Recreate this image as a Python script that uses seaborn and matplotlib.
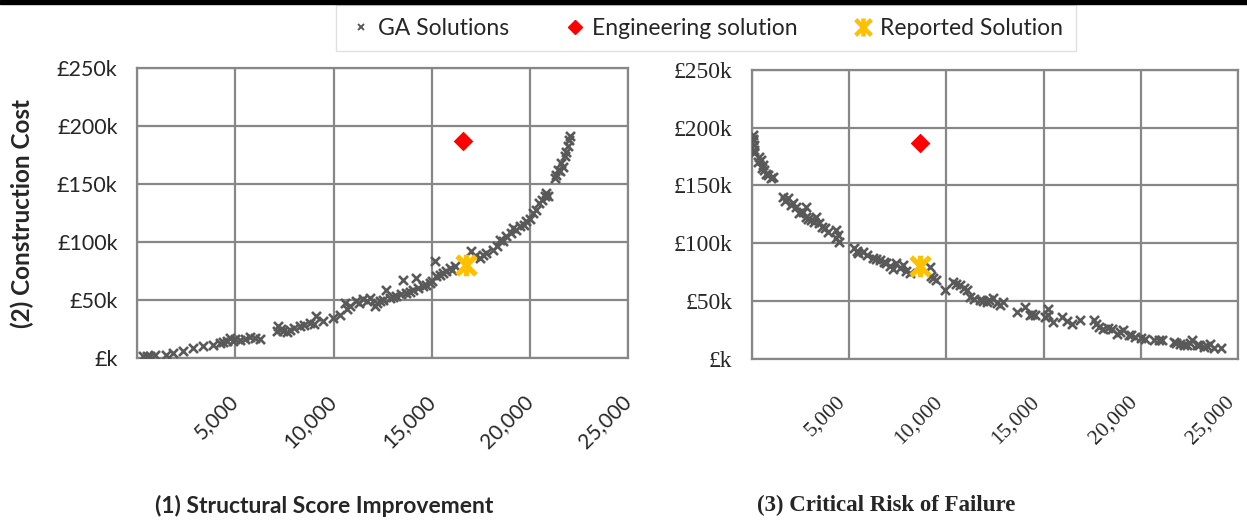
import numpy as np
import pandas as pd
import matplotlib
matplotlib.use("Agg")
import matplotlib.pyplot as plt
import matplotlib.transforms as mtransforms
from matplotlib.lines import Line2D
from matplotlib.patches import Rectangle
from matplotlib.path import Path
import seaborn as sns

# GA solutions, panel (1): structural score improvement vs construction cost
score_x = [305, 644, 1490, 1830, 2340, 2850, 3360, 3860, 4370, 4710, 4880, 5220, 5730, 6240,
           7090, 7170, 7420, 7760, 8270, 8780, 9120, 9460, 9970, 10310, 10560, 10810, 11160,
           11490, 11830, 12090, 12340, 12680, 12850, 13190, 13530, 13700, 14030, 14200, 14540,
           14880, 15130, 15220, 15560, 15900, 16150, 17000, 17430, 17760, 18100, 18440, 18780,
           19120, 19460, 19800, 20140, 20470, 20730, 20810, 21240, 21490, 21580, 21750, 21920, 22000,
           500, 900, 4200, 4550, 5000, 5500, 6000, 7300, 7600, 8000, 8500, 9000, 10700, 11300, 11700,
           12200, 12500, 13000, 13400, 13900, 14300, 14700, 15000, 15400, 15700, 16000, 17200, 17600,
           18300, 18600, 19000, 19300, 19700, 20000, 20300, 20600, 20900, 21300, 21400, 21650, 21800, 21950]
score_cost = [2000, 2000, 2900, 4300, 5700, 8600, 10000, 11500, 13500, 17200, 14400, 15800, 18100, 16400,
              23000, 27300, 23000, 24400, 27300, 30200, 35900, 31600, 34500, 37400, 47400, 44500, 48900,
              50900, 51700, 44500, 48900, 58900, 51700, 53200, 67500, 56000, 58900, 69000, 61800,
              64700, 83300, 70400, 73300, 77600, 79000, 92000, 86200, 90500, 93400, 102000, 104900,
              112100, 113500, 117800, 125000, 133600, 139400, 142300, 155200, 160900, 168100, 173900, 182500, 191100,
              1500, 2500, 13000, 15000, 16000, 16500, 17500, 25000, 22500, 26000, 28500, 29500, 42000, 47000, 49000,
              47000, 50000, 53000, 55000, 57000, 60000, 63000, 66000, 72000, 75000, 76000, 88000, 89000,
              97000, 101000, 108000, 110000, 115000, 120000, 128000, 136000, 140000, 158000, 162000, 165000, 178000, 188000]

# GA solutions, panel (3): critical risk of failure vs construction cost
risk_x = [34, 69, 100, 120, 380, 460, 550, 640, 810, 980, 1065, 1580, 1840, 2100, 2270, 2440, 2780,
          2780, 3040, 3300, 3470, 3730, 4330, 4330, 4500, 5270, 5440, 5700, 6220, 6560, 6910, 7250,
          7420, 7770, 8110, 9130, 9310, 9480, 9910, 10340, 10690, 11030, 11200, 11720, 12060, 12410,
          12750, 12920, 13610, 14040, 14290, 14550, 15070, 15240, 15500, 15930, 16440, 16870, 17560,
          17820, 18070, 18500, 18760, 19100, 19360, 19710, 20220, 20650, 21080, 21680, 22020, 22370,
          22620, 22880, 23230, 23570, 23740, 24090,
          60, 90, 300, 500, 700, 1700, 2000, 2600, 2900, 3200, 3600, 3900, 4400, 5400, 5900, 6400,
          6800, 7100, 7600, 7900, 9200, 10500, 10900, 11400, 11900, 12200, 12600, 14400, 15200, 16200,
          17700, 18300, 18900, 19500, 20000, 20900, 21800, 22200, 22500, 23000, 23400]
risk_cost = [193700, 189400, 185000, 180700, 175000, 172000, 167700, 163400, 159100, 156200, 157600,
             140300, 138900, 134500, 131600, 125900, 131600, 123000, 120100, 123000, 117200, 112900,
             111400, 104200, 101300, 95600, 91200, 92700, 86900, 85500, 82600, 78200, 82600, 81100,
             73900, 79700, 69600, 68100, 59500, 66700, 63800, 59500, 53700, 50800, 49400, 52300, 46500,
             49400, 40700, 45000, 37800, 37800, 36400, 43600, 32000, 36400, 30600, 33500, 33500, 27700,
             26300, 26300, 21900, 24800, 20500, 19100, 17600, 16200, 16200, 14700, 13300, 11800, 16200,
             11800, 10400, 13300, 9800, 9800,
             190000, 178000, 170000, 165000, 160000, 137000, 133000, 127000, 121000, 118000, 114000, 110000,
             107000, 93000, 90000, 86000, 84000, 80000, 79000, 76000, 72000, 65000, 61000, 52000, 50000,
             51000, 48000, 39000, 38000, 33000, 30000, 27000, 23000, 21000, 18000, 16000, 14000, 12000,
             14000, 12000, 11000]

# single highlighted solutions: [score, risk, cost]
engineering = [16580, 8620, 186800]
reported = [16750, 8620, 80500]

x_ticks = [0, 5000, 10000, 15000, 20000, 25000]
y_ticks = [0, 50000, 100000, 150000, 200000, 250000]
y_labels = ["£k", "£50k", "£100k", "£150k", "£200k", "£250k"]

sns.set_style("white")
plt.rcParams["font.family"] = ["Lato", "DejaVu Sans"]

GA_COL = "#595959"
GRID_COL = "#878787"
SANS = ["Lato", "DejaVu Sans"]
SERIF = ["Liberation Serif", "DejaVu Serif"]

# Excel-like "star" marker: an X with a vertical bar through it
star = Path([(-1, -1), (1, 1), (-1, 1), (1, -1), (0, -1.15), (0, 1.15)],
            [Path.MOVETO, Path.LINETO, Path.MOVETO, Path.LINETO, Path.MOVETO, Path.LINETO])

fig = plt.figure(figsize=(12.47, 5.21), dpi=100)
ax1 = fig.add_axes([0.110, 0.313, 0.394, 0.556])
ax2 = fig.add_axes([0.603, 0.311, 0.390, 0.555])


def draw_panel(ax, xs, ys, eng_x, rep_x, family, xsize, ysize):
    sns.scatterplot(x=xs, y=ys, ax=ax, marker="x", color=GA_COL, s=42, linewidth=1.9, zorder=3)
    sns.scatterplot(x=[eng_x], y=[engineering[2]], ax=ax, marker="D", color="#FF0000",
                    s=100, linewidth=0, zorder=4)
    sns.scatterplot(x=[rep_x], y=[reported[2]], ax=ax, marker=star, color="#FFC000",
                    edgecolor="#FFC000", s=240, linewidth=3.8, zorder=5)
    ax.set_xlim(0, 25000)
    ax.set_ylim(0, 250000)
    ax.set_xticks(x_ticks)
    ax.set_xticklabels([""] + [f"{v:,}" for v in x_ticks[1:]], rotation=45, ha="right", va="top",
                       family=family, fontsize=xsize)
    ax.set_yticks(y_ticks)
    ax.set_yticklabels(y_labels, family=family, fontsize=ysize)
    ax.tick_params(axis="both", length=0)
    ax.tick_params(axis="x", pad=24)
    ax.tick_params(axis="y", pad=14)
    ax.grid(True, color=GRID_COL, linewidth=1.6)
    ax.set_axisbelow(True)
    for sp in ax.spines.values():
        sp.set_color(GRID_COL)
        sp.set_linewidth(1.6)
    ax.set_xlabel("")
    ax.set_ylabel("")
    return ax


draw_panel(ax1, score_x, score_cost, engineering[0], reported[0], SANS, 15, 15.5)
draw_panel(ax2, risk_x, risk_cost, engineering[1], reported[1], SERIF, 15.5, 17)

# nudge left-panel tick labels a little right, as in the reference
shift = mtransforms.ScaledTranslation(7 / 100, 0, fig.dpi_scale_trans)
for lab in ax1.get_xticklabels():
    lab.set_transform(lab.get_transform() + shift)

fig.text(0.260, 0.029, "(1) Structural Score Improvement", ha="center", va="center",
         family=SANS, fontweight="bold", fontsize=16.5)
fig.text(0.711, 0.029, "(3) Critical Risk of Failure", ha="center", va="center",
         family=SERIF, fontweight="bold", fontsize=16.5)
fig.text(0.018, 0.59, "(2) Construction Cost", rotation=90, ha="center", va="center",
         family=SANS, fontweight="bold", fontsize=17.5)

handles = [
    Line2D([], [], marker="x", color=GA_COL, linestyle="", markersize=5, markeredgewidth=1.4),
    Line2D([], [], marker="D", color="#FF0000", linestyle="", markersize=7.5),
    Line2D([], [], marker=star, color="#FFC000", linestyle="", markersize=13, markeredgewidth=3.2),
]
fig.legend(handles, ["GA Solutions", "Engineering solution", "Reported Solution"],
           loc="upper center", bbox_to_anchor=(0.566, 0.99), borderaxespad=0, ncol=3,
           fontsize=16.5, frameon=True, fancybox=False, edgecolor="#D9D9D9",
           handletextpad=0.2, columnspacing=2.3, borderpad=0.55, handlelength=1.1)

fig.patches.append(Rectangle((0, 0.992), 1, 0.008, transform=fig.transFigure,
                             color="black", zorder=10))

fig.savefig("out.png", dpi=100)
